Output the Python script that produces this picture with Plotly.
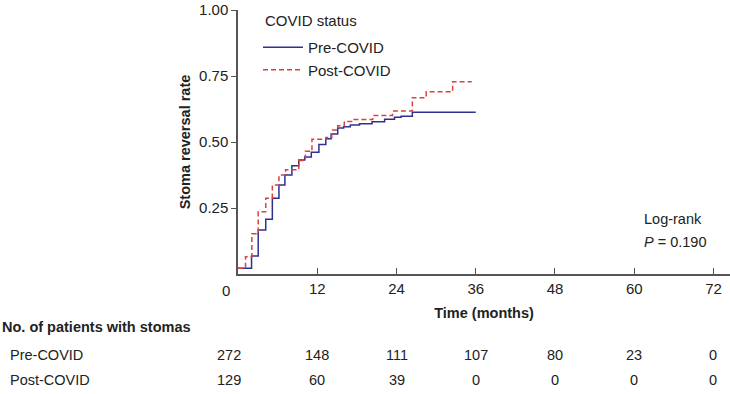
import plotly.graph_objects as go

# ---- data ----
pre_t = [0, 2.05, 3.06, 4.2, 5.2, 6.2, 7.1, 8.16, 9.2, 10.1, 11.1, 12.25, 13.3, 14.1, 15.1, 16.0, 17.0, 18.4, 20.3, 22.2, 23.7, 24.7, 26.4, 36.0]
pre_v = [0.022, 0.068, 0.167, 0.207, 0.287, 0.337, 0.375, 0.41, 0.432, 0.443, 0.461, 0.491, 0.512, 0.53, 0.553, 0.558, 0.564, 0.569, 0.577, 0.586, 0.594, 0.598, 0.613, 0.613]
post_t = [0, 1.14, 2.1, 3.06, 4.2, 5.2, 6.2, 7.2, 9.2, 10.2, 11.2, 13.3, 14.2, 15.1, 16.1, 17.2, 20.4, 23.4, 26.4, 28.5, 32.5, 35.4]
post_v = [0.022, 0.065, 0.152, 0.236, 0.287, 0.337, 0.375, 0.395, 0.43, 0.465, 0.51, 0.517, 0.545, 0.562, 0.578, 0.585, 0.6, 0.617, 0.668, 0.69, 0.728, 0.728]

x_ticks = [12, 24, 36, 48, 60, 72]
y_ticks = [0.25, 0.5, 0.75, 1.0]
y_ticktext = ["0.25", "0.50", "0.75", "1.00"]

risk_times = [0, 12, 24, 36, 48, 60, 72]
risk_pre = [272, 148, 111, 107, 80, 23, 0]
risk_post = [129, 60, 39, 0, 0, 0, 0]

FONT = "Liberation Sans, Arial, Helvetica, sans-serif"
BLUE = "#2e3192"
RED = "#d8433f"
AXC = "#555555"

fig = go.Figure()
fig.add_trace(go.Scatter(x=pre_t, y=pre_v, mode="lines", line_shape="hv",
                         line=dict(color=BLUE, width=1.5), name="Pre-COVID"))
fig.add_trace(go.Scatter(x=post_t, y=post_v, mode="lines", line_shape="hv",
                         line=dict(color=RED, width=1.5, dash="5px,3px"), name="Post-COVID"))

L, T, B, R = 238, 10, 120, 0
W, H = 730, 394
pw = W - L - R
ph = H - T - B

def py(ypix):
    return (T + ph - ypix) / ph

def px(xpix):
    return (xpix - L) / pw

fig.update_layout(
    width=W, height=H,
    margin=dict(l=L, r=R, t=T, b=B),
    paper_bgcolor="white", plot_bgcolor="white",
    font=dict(family=FONT, size=14, color="#222222"),
    showlegend=True,
    legend=dict(x=px(258), y=py(31), xanchor="left", yanchor="top",
                bgcolor="rgba(0,0,0,0)", font=dict(size=15), itemwidth=40),
)
fig.update_xaxes(range=[0, 74.5], tickvals=x_ticks, ticktext=[str(v) for v in x_ticks],
                 ticks="inside", ticklen=6, tickcolor=AXC, tickwidth=1,
                 showline=True, linecolor=AXC, linewidth=1.5, showgrid=False, zeroline=False,
                 title=dict(text="<b>Time (months)</b>", font=dict(size=14.5), standoff=12),
                 tickfont=dict(size=15))
fig.update_yaxes(range=[0, 1], tickvals=y_ticks, ticktext=y_ticktext,
                 ticks="outside", ticklen=5, tickcolor=AXC, tickwidth=1,
                 showline=True, linecolor=AXC, linewidth=1.5, showgrid=False, zeroline=False,
                 title=dict(text="<b>Stoma reversal rate</b>", font=dict(size=14.5), standoff=5),
                 tickfont=dict(size=15))

ann = []
ann.append(dict(x=px(263), y=py(21), xref="paper", yref="paper", text="COVID status",
                showarrow=False, xanchor="left", yanchor="middle", font=dict(size=15)))
# x tick label "0" (offset as in reference)
ann.append(dict(x=0, y=0, xref="x", yref="paper", text="0", showarrow=False,
                xshift=-12, yshift=-6, yanchor="top", font=dict(size=15)))
ann.append(dict(x=px(642), y=py(219), xref="paper", yref="paper", text="Log-rank",
                showarrow=False, xanchor="left", yanchor="middle", font=dict(size=14.5)))
ann.append(dict(x=px(642), y=py(242), xref="paper", yref="paper", text="<i>P</i> = 0.190",
                showarrow=False, xanchor="left", yanchor="middle", font=dict(size=14.5)))
ann.append(dict(x=px(0), y=py(327), xref="paper", yref="paper",
                text="<b>No. of patients with stomas</b>", showarrow=False,
                xanchor="left", yanchor="middle", font=dict(size=14.5)))
for label, vals, ypix in [("Pre-COVID", risk_pre, 355), ("Post-COVID", risk_post, 380)]:
    ann.append(dict(x=px(8), y=py(ypix), xref="paper", yref="paper", text=label,
                    showarrow=False, xanchor="left", yanchor="middle", font=dict(size=14.5)))
    for t, v in zip(risk_times, vals):
        ann.append(dict(x=t, y=py(ypix), xref="x", yref="paper", text=str(v),
                        showarrow=False, xanchor="center", yanchor="middle",
                        xshift=-9 if t == 0 else 0, font=dict(size=14.5)))
fig.update_layout(annotations=ann)

fig.write_html("out.html", config={"displayModeBar": False},
               post_script="document.body.style.margin='0px';")
